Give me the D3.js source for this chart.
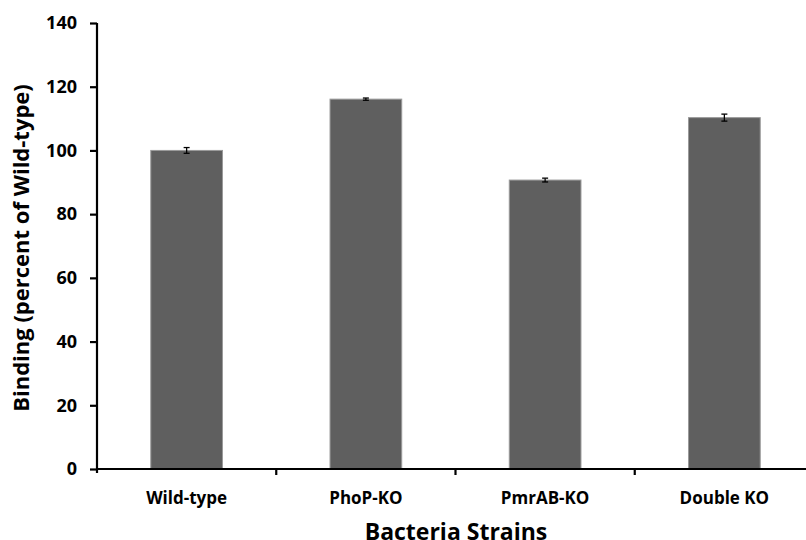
<!DOCTYPE html>
<html>
<head>
<meta charset="utf-8">
<script src="https://cdn.jsdelivr.net/npm/d3@7"></script>
<style>
  body { margin: 0; background: #fff; }
  svg text { font-family: "Open Sans", sans-serif; font-weight: bold; fill: #000; }
</style>
</head>
<body>
<div id="chart"></div>
<script>
// chart data
var strains = ["Wild-type", "PhoP-KO", "PmrAB-KO", "Double KO"],
    binding = [100, 116.1, 90.7, 110.3],
    bindingErr = [0.9, 0.35, 0.6, 1.1],
    yTicks = [0, 20, 40, 60, 80, 100, 120, 140];

var width = 806,
    height = 540,
    margin = { top: 23, left: 97, bottom: 71 };

var svg = d3.select("#chart")
    .append("svg")
    .attr("width", width)
    .attr("height", height);

// plot runs a bit past the right edge, like the cropped original
var x = d3.scaleBand()
    .domain(strains)
    .range([margin.left, 814])
    .paddingInner(0.6)
    .paddingOuter(0.3);

var y = d3.scaleLinear()
    .domain([0, 140])
    .range([height - margin.bottom, margin.top]);

var rows = strains.map(function(s, i) {
    return { name: s, value: binding[i], err: bindingErr[i] };
});

// bars
svg.selectAll(".bar")
    .data(rows)
    .enter().append("rect")
    .attr("class", "bar")
    .attr("x", function(d) { return x(d.name); })
    .attr("y", function(d) { return y(d.value); })
    .attr("width", x.bandwidth())
    .attr("height", function(d) { return y(0) - y(d.value); })
    .attr("fill", "#5f5f5f")
    .attr("stroke", "#9a9a9a")
    .attr("stroke-width", 1);

// error bars
var errG = svg.selectAll(".err")
    .data(rows)
    .enter().append("g")
    .attr("class", "err")
    .attr("stroke", "#000")
    .attr("stroke-width", 1.3);

errG.append("line")
    .attr("x1", function(d) { return x(d.name) + x.bandwidth() / 2; })
    .attr("x2", function(d) { return x(d.name) + x.bandwidth() / 2; })
    .attr("y1", function(d) { return y(d.value + d.err); })
    .attr("y2", function(d) { return y(d.value - d.err); });

[1, -1].forEach(function(sign) {
    errG.append("line")
        .attr("x1", function(d) { return x(d.name) + x.bandwidth() / 2 - 3; })
        .attr("x2", function(d) { return x(d.name) + x.bandwidth() / 2 + 3; })
        .attr("y1", function(d) { return y(d.value + sign * d.err); })
        .attr("y2", function(d) { return y(d.value + sign * d.err); });
});

// y axis
var yAxis = svg.append("g")
    .attr("transform", "translate(" + margin.left + ",0)")
    .call(d3.axisLeft(y).tickValues(yTicks).tickSize(7).tickSizeOuter(0).tickPadding(13));

yAxis.select(".domain").attr("stroke-width", 2.2).attr("d", "M0," + (y(0) + 4) + "V" + y(140));
yAxis.selectAll(".tick line").attr("stroke-width", 2.2);
yAxis.selectAll(".tick text").style("font-size", "18px");

// x axis: baseline plus ticks at the category boundaries
var xAxis = svg.append("g");
xAxis.append("line")
    .attr("x1", margin.left)
    .attr("x2", width)
    .attr("y1", y(0))
    .attr("y2", y(0))
    .attr("stroke", "#000")
    .attr("stroke-width", 2.2);

var step = x.step();
xAxis.selectAll(".xtick")
    .data(strains.slice(1))
    .enter().append("line")
    .attr("class", "xtick")
    .attr("x1", function(d) { return x(d) - step * 0.3; })
    .attr("x2", function(d) { return x(d) - step * 0.3; })
    .attr("y1", y(0))
    .attr("y2", y(0) + 6)
    .attr("stroke", "#000")
    .attr("stroke-width", 2.2);

xAxis.selectAll(".xlabel")
    .data(strains)
    .enter().append("text")
    .attr("class", "xlabel")
    .attr("x", function(d) { return x(d) + x.bandwidth() / 2; })
    .attr("y", 504)
    .attr("text-anchor", "middle")
    .style("font-size", "17px")
    .text(function(d) { return d; });

// axis titles (bottom one is cut by the frame, as in the original)
svg.append("text")
    .attr("x", 456)
    .attr("y", 540)
    .attr("text-anchor", "middle")
    .style("font-size", "23px")
    .text("Bacteria Strains");

svg.append("text")
    .attr("transform", "translate(29,248) rotate(-90)")
    .attr("text-anchor", "middle")
    .style("font-size", "22px")
    .text("Binding (percent of Wild-type)");
</script>
</body>
</html>
